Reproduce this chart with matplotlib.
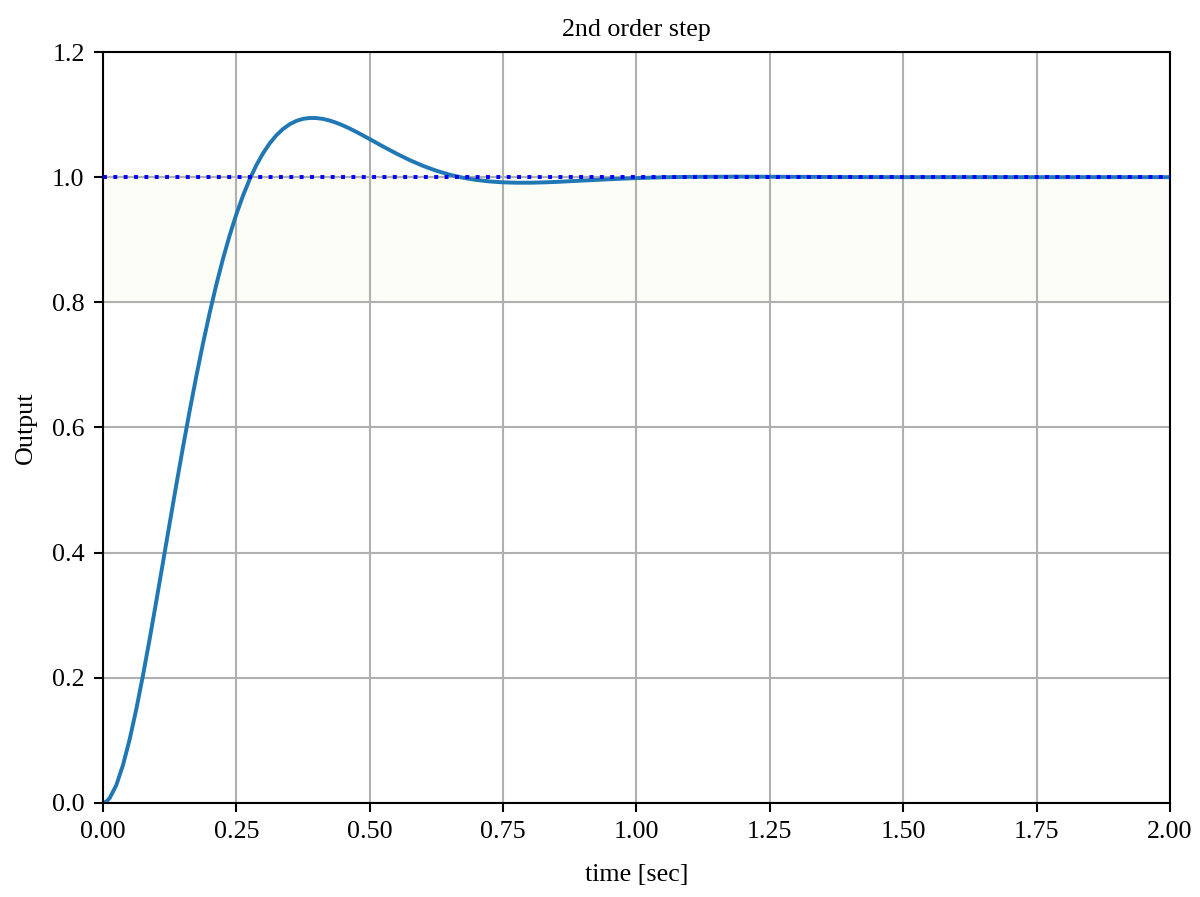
import numpy as np
import matplotlib
matplotlib.use("Agg")
import matplotlib.pyplot as plt

plt.rcParams['font.family'] = 'serif'
plt.rcParams['font.serif'] = ['Liberation Serif', 'DejaVu Serif']

# step response (time in sec, output)
time = [0.0, 0.00625, 0.0125, 0.025, 0.0375, 0.05, 0.0625, 0.075, 0.0875, 0.1,
        0.1125, 0.125, 0.1375, 0.15, 0.1625, 0.175, 0.1875, 0.2, 0.2125, 0.225,
        0.2375, 0.25, 0.2625, 0.275, 0.2875, 0.3, 0.3125, 0.325, 0.3375, 0.35,
        0.3625, 0.375, 0.3875, 0.4, 0.4125, 0.425, 0.4375, 0.45, 0.4625, 0.475,
        0.4875, 0.5, 0.5125, 0.525, 0.55, 0.575, 0.6, 0.625, 0.65, 0.675,
        0.7, 0.725, 0.75, 0.775, 0.8, 0.825, 0.85, 0.875, 0.9, 0.95,
        1.0, 1.05, 1.1, 1.2, 1.3, 1.4, 1.5, 1.6, 1.7, 1.8, 1.9, 2.0]
output = [0.0, 0.0019, 0.0074, 0.0282, 0.0602, 0.1013, 0.1497, 0.2037, 0.2617, 0.3224,
          0.3844, 0.4467, 0.5083, 0.5685, 0.6265, 0.6819, 0.7342, 0.7830, 0.8282, 0.8696,
          0.9071, 0.9407, 0.9705, 0.9966, 1.0191, 1.0381, 1.0540, 1.0669, 1.0770, 1.0846,
          1.0899, 1.0932, 1.0946, 1.0945, 1.0931, 1.0905, 1.0869, 1.0826, 1.0777, 1.0723,
          1.0666, 1.0608, 1.0549, 1.0490, 1.0377, 1.0272, 1.0180, 1.0102, 1.0039, 0.9990,
          0.9955, 0.9931, 0.9917, 0.9911, 0.9911, 0.9916, 0.9924, 0.9935, 0.9946, 0.9967,
          0.9985, 0.9998, 1.0005, 1.0008, 1.0005, 1.0001, 1.0, 1.0, 1.0, 1.0, 1.0, 1.0]
reference = 1.0
band = (0.8, 1.0)

fig, ax = plt.subplots(figsize=(6.4, 4.784), dpi=187.5)
fig.subplots_adjust(left=0.0858, right=0.975, top=0.942, bottom=0.105)

ax.axhspan(band[0], band[1], color='#fdfdf8', zorder=0)
ax.plot(time, output, color='#1f77b4', linewidth=1.5, zorder=2)
ax.axhline(reference, color='b', linestyle=':', linewidth=1.5, zorder=3)

ax.set_xlim(0, 2.0)
ax.set_ylim(0, 1.2)
ax.set_xticks(np.arange(0, 2.01, 0.25))
ax.set_xticklabels(["{:.2f}".format(v) for v in np.arange(0, 2.01, 0.25)])
ax.set_yticks(np.arange(0, 1.21, 0.2))
ax.set_yticklabels(["{:.1f}".format(v) for v in np.arange(0, 1.21, 0.2)])
ax.grid(True, zorder=1)
ax.set_axisbelow(True)

ax.set_title("2nd order step", fontsize=10)
ax.set_xlabel("time [sec]", labelpad=8)
ax.set_ylabel("Output", labelpad=6)

fig.savefig("out.png", dpi=187.5)
